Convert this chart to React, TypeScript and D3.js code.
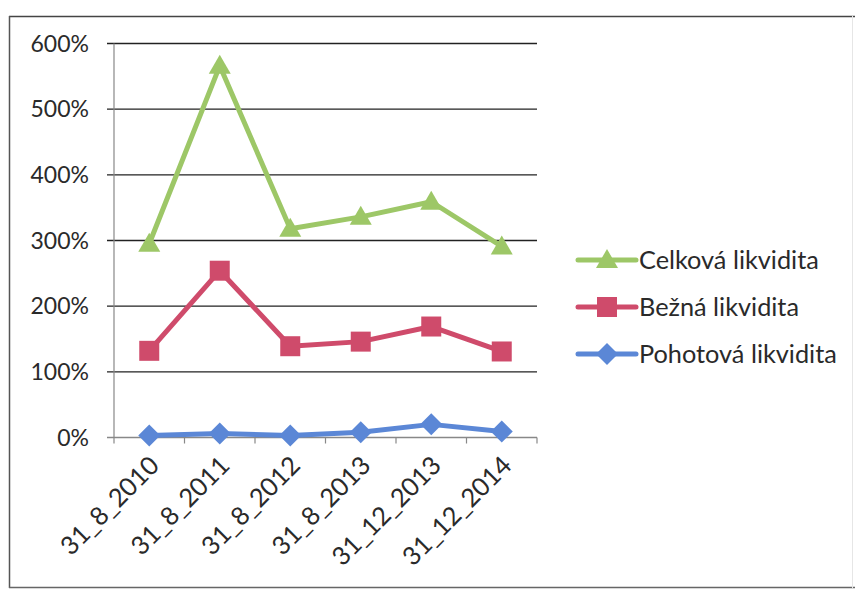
import React from "react";
import * as d3 from "d3";

const categories = ["31_8_2010", "31_8_2011", "31_8_2012", "31_8_2013", "31_12_2013", "31_12_2014"];
const celkova = [2.95, 5.66, 3.18, 3.36, 3.59, 2.91];
const bezna = [1.32, 2.54, 1.39, 1.46, 1.69, 1.31];
const pohotova = [0.03, 0.06, 0.03, 0.08, 0.2, 0.09];
const yTicks = [0, 1, 2, 3, 4, 5, 6];
const seriesNames = ["Celková likvidita", "Bežná likvidita", "Pohotová likvidita"];

const W = 855;
const H = 590;
const left = 114;
const right = 537;
const top = 43.5;
const bottom = 437.5;

export default function App() {
  const x = d3.scaleBand<string>().domain(categories).range([left, right]).padding(0);
  const y = d3.scaleLinear().domain([0, 6]).range([bottom, top]);
  const cx = (c: string) => (x(c) as number) + x.bandwidth() / 2;
  const line = d3
    .line<number>()
    .x((_, i) => cx(categories[i]))
    .y((d) => y(d));

  const series = [
    { name: seriesNames[0], data: celkova, color: "#9dc767", marker: "triangle" },
    { name: seriesNames[1], data: bezna, color: "#cf4b6b", marker: "square" },
    { name: seriesNames[2], data: pohotova, color: "#5b87d6", marker: "diamond" },
  ];

  const markerPath = (type: string, px: number, py: number) => {
    if (type === "triangle") {
      return `M${px},${py - 11} L${px + 11},${py + 8} L${px - 11},${py + 8} Z`;
    }
    if (type === "square") {
      return `M${px - 10},${py - 10} h20 v20 h-20 Z`;
    }
    return `M${px},${py - 11} L${px + 11},${py} L${px},${py + 11} L${px - 11},${py} Z`;
  };

  const font = "Lato, 'Open Sans', sans-serif";
  const legendY = [260, 307, 354];

  return (
    <div style={{ position: "absolute", left: 0, top: 0 }}>
      <svg width={W} height={H} style={{ display: "block", background: "#fff" }}>
        <rect x={0} y={0} width={W} height={H} fill="#fff" />
        {/* frame */}
        <line x1={9} y1={16.5} x2={W} y2={16.5} stroke="#444" strokeWidth={1.5} />
        <line x1={9.5} y1={16} x2={9.5} y2={588} stroke="#555" strokeWidth={1.5} />
        <line x1={9} y1={587.5} x2={W} y2={587.5} stroke="#666" strokeWidth={1.5} />
        <line x1={852.5} y1={16} x2={852.5} y2={588} stroke="#e6e6e6" strokeWidth={1} />

        {/* gridlines */}
        {yTicks.map((t) => (
          <line
            key={t}
            x1={left - 7}
            x2={right}
            y1={y(t)}
            y2={y(t)}
            stroke={t === 0 ? "#888" : "#222"}
            strokeWidth={1.4}
          />
        ))}
        {/* y axis */}
        <line x1={left} x2={left} y1={top} y2={bottom + 6} stroke="#888" strokeWidth={1.2} />
        {/* x ticks */}
        {categories.map((c) => (
          <line
            key={c}
            x1={(x(c) as number) + x.bandwidth()}
            x2={(x(c) as number) + x.bandwidth()}
            y1={bottom}
            y2={bottom + 6}
            stroke="#888"
            strokeWidth={1.2}
          />
        ))}
        {/* y labels */}
        {yTicks.map((t) => (
          <text
            key={t}
            x={89}
            y={y(t)}
            dy="0.36em"
            textAnchor="end"
            fontFamily={font}
            fontSize={23}
            fill="#2a2a2a"
          >
            {d3.format(".0%")(t)}
          </text>
        ))}
        {/* x labels */}
        {categories.map((c) => (
          <text
            key={c}
            transform={`translate(${cx(c) + 5},${bottom + 23}) rotate(-45)`}
            textAnchor="end"
            fontFamily={font}
            fontSize={25.5}
            fill="#2a2a2a"
            dy="0.36em"
          >
            {c}
          </text>
        ))}

        {/* series */}
        {series.map((s) => (
          <g key={s.name}>
            <path d={line(s.data) as string} fill="none" stroke={s.color} strokeWidth={5} strokeLinejoin="round" />
            {s.data.map((v, i) => (
              <path key={i} d={markerPath(s.marker, cx(categories[i]), y(v))} fill={s.color} />
            ))}
          </g>
        ))}

        {/* legend */}
        {series.map((s, i) => (
          <g key={s.name}>
            <line x1={578} x2={636} y1={legendY[i]} y2={legendY[i]} stroke={s.color} strokeWidth={5} strokeLinecap="round" />
            <path d={markerPath(s.marker, 607, legendY[i])} fill={s.color} />
            <text x={639} y={legendY[i]} dy="0.36em" fontFamily={font} fontSize={25.3} fill="#2a2a2a">
              {s.name}
            </text>
          </g>
        ))}
      </svg>
    </div>
  );
}
